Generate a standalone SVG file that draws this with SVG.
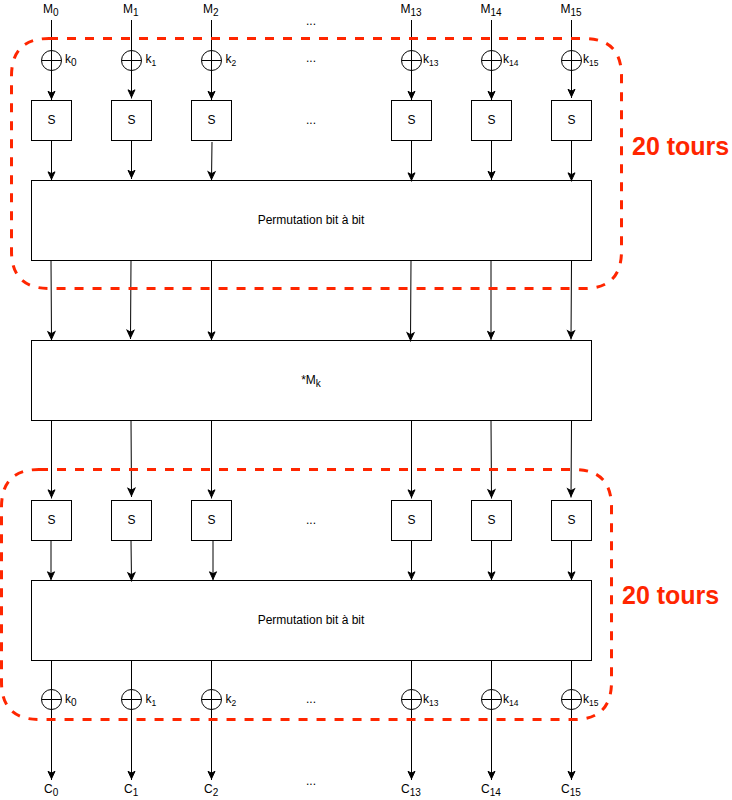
<svg xmlns="http://www.w3.org/2000/svg" width="732" height="800" viewBox="0 0 732 800">
<style>
text{font-family:"Liberation Sans",Arial,sans-serif;font-size:12px;fill:#000}
.m{text-anchor:middle}
.s{font-size:10px}
.t{font-size:8.5px}
.box{fill:#fff;stroke:#000;stroke-width:1}
.x{fill:none;stroke:#000;stroke-width:1}
.c line{stroke:#000;stroke-width:1;marker-end:url(#a)}
.r{fill:none;stroke:#ff2600;stroke-width:3;stroke-dasharray:9 9}
.b{font-size:25px;font-weight:700;fill:#ff2600}
</style>
<defs>
<marker id="a" markerUnits="userSpaceOnUse" markerWidth="12" markerHeight="12" refX="10.2" refY="5" orient="auto" overflow="visible"><path d="M1.5 1.5L9 5L1.5 8.5L3.4 5Z" fill="#000" stroke="#000" stroke-width="1"/></marker>
<g id="xor"><circle r="10" class="x"/><path d="M-10 0H10M0 -10V10" class="x"/></g>
</defs>
<rect width="732" height="800" fill="#fff"/>

<g id="inputs">
<text x="43" y="13">M<tspan class="s" dy="2.5">0</tspan></text>
<text x="123" y="13">M<tspan class="s" dy="2.5">1</tspan></text>
<text x="203" y="13">M<tspan class="s" dy="2.5">2</tspan></text>
<text class="m" x="311" y="25">...</text>
<text x="400.500" y="13">M<tspan class="s" dy="2.5">13</tspan></text>
<text x="480.500" y="13">M<tspan class="s" dy="2.5">14</tspan></text>
<text x="560.500" y="13">M<tspan class="s" dy="2.5">15</tspan></text>
</g>

<g id="round1-keys">
<use href="#xor" x="51.5" y="60.500"/><text x="65" y="63">k<tspan class="s" dy="2.5">0</tspan></text>
<use href="#xor" x="131.5" y="60.500"/><text x="145.500" y="63">k<tspan class="t" dy="2.5">1</tspan></text>
<use href="#xor" x="211.5" y="60.500"/><text x="225.500" y="63">k<tspan class="t" dy="2.5">2</tspan></text>
<text class="m" x="311" y="62">...</text>
<use href="#xor" x="411.5" y="60.500"/><text x="423" y="63">k<tspan class="t" dy="2.5">13</tspan></text>
<use href="#xor" x="491.5" y="60.500"/><text x="503" y="63">k<tspan class="t" dy="2.5">14</tspan></text>
<use href="#xor" x="571.5" y="60.500"/><text x="583" y="63">k<tspan class="t" dy="2.5">15</tspan></text>
</g>

<g id="round1-sboxes">
<rect class="box" x="31.5" y="100.5" width="40" height="40"/><text class="m" x="51.500" y="124">S</text>
<rect class="box" x="111.5" y="100.5" width="40" height="40"/><text class="m" x="131.500" y="124">S</text>
<rect class="box" x="191.5" y="100.5" width="40" height="40"/><text class="m" x="211.500" y="124">S</text>
<text class="m" x="311" y="124">...</text>
<rect class="box" x="391.5" y="100.5" width="40" height="40"/><text class="m" x="411.500" y="124">S</text>
<rect class="box" x="471.5" y="100.5" width="40" height="40"/><text class="m" x="491.500" y="124">S</text>
<rect class="box" x="551.5" y="100.5" width="40" height="40"/><text class="m" x="571.500" y="124">S</text>
</g>

<g id="perm1"><rect class="box" x="31.5" y="180.5" width="560" height="80"/><text class="m" x="311" y="224">Permutation bit à bit</text></g>
<g id="mk"><rect class="box" x="31.5" y="340.5" width="560" height="80"/><text class="m" x="311" y="384">*M<tspan class="s" dy="2.5">k</tspan></text></g>

<g id="round2-sboxes">
<rect class="box" x="31.5" y="500.5" width="40" height="40"/><text class="m" x="51.500" y="524">S</text>
<rect class="box" x="111.5" y="500.5" width="40" height="40"/><text class="m" x="131.500" y="524">S</text>
<rect class="box" x="191.5" y="500.5" width="40" height="40"/><text class="m" x="211.500" y="524">S</text>
<text class="m" x="311" y="524">...</text>
<rect class="box" x="391.5" y="500.5" width="40" height="40"/><text class="m" x="411.500" y="524">S</text>
<rect class="box" x="471.5" y="500.5" width="40" height="40"/><text class="m" x="491.500" y="524">S</text>
<rect class="box" x="551.5" y="500.5" width="40" height="40"/><text class="m" x="571.500" y="524">S</text>
</g>

<g id="perm2"><rect class="box" x="31.5" y="580.5" width="560" height="80"/><text class="m" x="311" y="624">Permutation bit à bit</text></g>

<g id="round2-keys">
<use href="#xor" x="51.5" y="699.500"/><text x="65" y="703">k<tspan class="s" dy="2.5">0</tspan></text>
<use href="#xor" x="131.5" y="699.500"/><text x="145.500" y="703">k<tspan class="t" dy="2.5">1</tspan></text>
<use href="#xor" x="211.5" y="699.500"/><text x="225.500" y="703">k<tspan class="t" dy="2.5">2</tspan></text>
<text class="m" x="311" y="703">...</text>
<use href="#xor" x="411.5" y="699.500"/><text x="423" y="703">k<tspan class="t" dy="2.5">13</tspan></text>
<use href="#xor" x="491.5" y="699.500"/><text x="503" y="703">k<tspan class="t" dy="2.5">14</tspan></text>
<use href="#xor" x="571.5" y="699.500"/><text x="583" y="703">k<tspan class="t" dy="2.5">15</tspan></text>
</g>

<g id="outputs">
<text x="44" y="793">C<tspan class="s" dy="2.5">0</tspan></text>
<text x="124" y="793">C<tspan class="s" dy="2.5">1</tspan></text>
<text x="204" y="793">C<tspan class="s" dy="2.5">2</tspan></text>
<text class="m" x="311" y="785">...</text>
<text x="401" y="793">C<tspan class="s" dy="2.5">13</tspan></text>
<text x="481" y="793">C<tspan class="s" dy="2.5">14</tspan></text>
<text x="561" y="793">C<tspan class="s" dy="2.5">15</tspan></text>
</g>

<g id="connectors" class="c">
<line x1="51.5" y1="20" x2="51.5" y2="100"/>
<line x1="131.5" y1="20" x2="131.5" y2="98.500"/>
<line x1="211.5" y1="20" x2="211.5" y2="100"/>
<line x1="411.5" y1="20" x2="411.5" y2="100"/>
<line x1="491.5" y1="20" x2="491.5" y2="100"/>
<line x1="571.5" y1="20" x2="571.5" y2="98"/>

<line x1="51.5" y1="140.5" x2="51.5" y2="180.500"/>
<line x1="131.5" y1="140.5" x2="131.5" y2="179"/>
<line x1="212" y1="142" x2="211.5" y2="180.500"/>
<line x1="411.5" y1="140.5" x2="411.5" y2="181.500"/>
<line x1="491.5" y1="140.5" x2="491.5" y2="180"/>
<line x1="571.5" y1="140.5" x2="571.5" y2="181.500"/>

<line x1="51" y1="260.5" x2="51.500" y2="340.500"/>
<line x1="131" y1="260.5" x2="130.500" y2="339"/>
<line x1="211.5" y1="260.5" x2="211.5" y2="340.500"/>
<line x1="411" y1="260.5" x2="410.500" y2="341.500"/>
<line x1="491" y1="260.5" x2="491" y2="340"/>
<line x1="571.5" y1="260.5" x2="571" y2="339.500"/>

<line x1="51.5" y1="420.5" x2="51.5" y2="498.500"/>
<line x1="131" y1="420" x2="131.500" y2="497"/>
<line x1="211.5" y1="420.5" x2="211.5" y2="498.500"/>
<line x1="411.5" y1="420.5" x2="411.5" y2="498.500"/>
<line x1="491" y1="420.5" x2="491.5" y2="498.500"/>
<line x1="571.5" y1="420.5" x2="571" y2="497.500"/>

<line x1="51" y1="540.5" x2="51" y2="580.500"/>
<line x1="131" y1="540.5" x2="131.500" y2="581.500"/>
<line x1="213" y1="540.5" x2="213" y2="580.500"/>
<line x1="411.5" y1="540.5" x2="411.5" y2="580.500"/>
<line x1="491.5" y1="540.5" x2="491.5" y2="580.500"/>
<line x1="571.5" y1="540.5" x2="571.5" y2="580.500"/>

<line x1="51.5" y1="660.5" x2="51.5" y2="780"/>
<line x1="131.5" y1="660.5" x2="131.5" y2="780"/>
<line x1="211.5" y1="660.5" x2="211.5" y2="780"/>
<line x1="411.5" y1="660.5" x2="411.5" y2="780"/>
<line x1="491.5" y1="660.5" x2="491.5" y2="780"/>
<line x1="571.5" y1="660.5" x2="571.5" y2="780"/>
</g>

<g id="round-group-1">
<path class="r" d="M49 38.500L584 38.500Q621.500 38.500 621.500 76L621.500 251Q621.500 288.500 584 288.500L49 288.500Q11.500 288.500 11.500 251L11.500 76Q11.500 38.500 49 38.500Z"/>
<text class="b" x="632" y="155">20 tours</text>
</g>
<g id="round-group-2">
<path class="r" d="M39 469.500L574 469.500Q611.500 469.500 611.500 507L611.500 682Q611.500 719.500 574 719.500L39 719.500Q1.500 719.500 1.500 682L1.500 507Q1.500 469.500 39 469.500Z"/>
<text class="b" x="622" y="604">20 tours</text>
</g>
</svg>
